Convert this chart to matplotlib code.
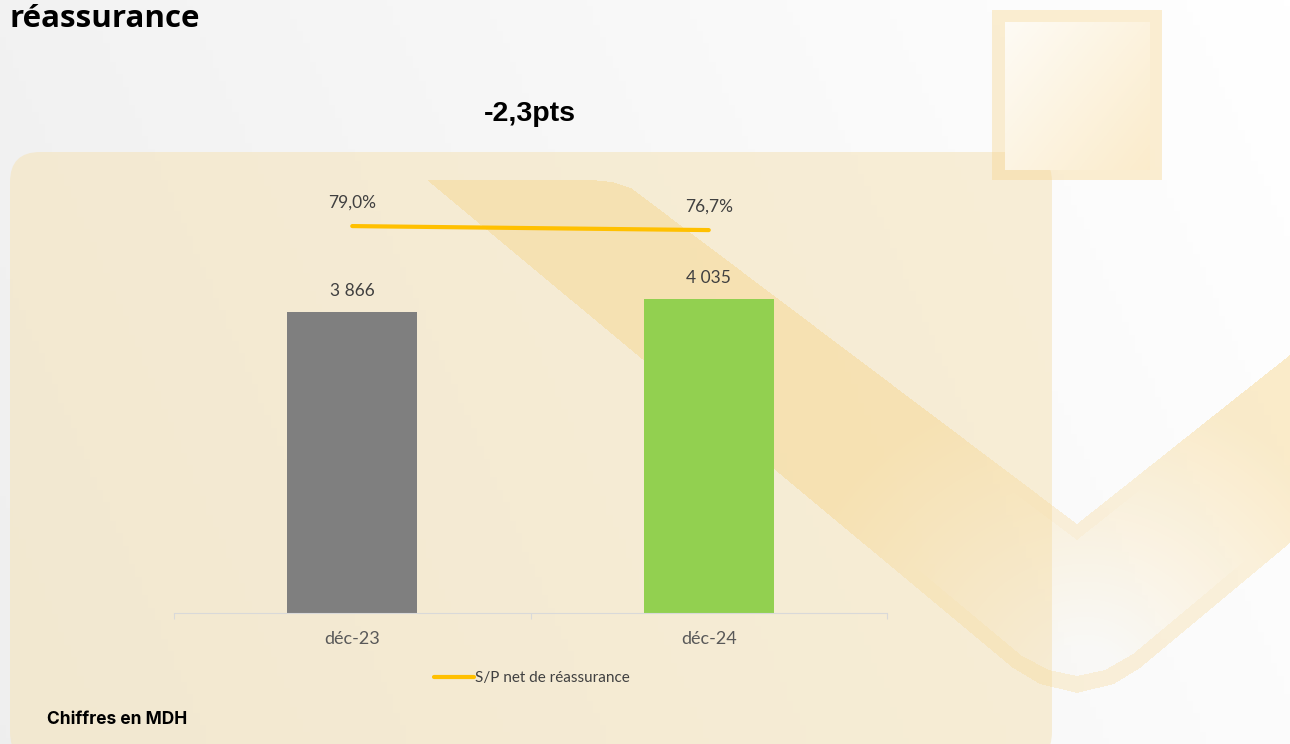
import numpy as np
import matplotlib
matplotlib.use("Agg")
import matplotlib.pyplot as plt
from matplotlib.patches import FancyBboxPatch, Rectangle
from matplotlib.path import Path

categories = ["déc-23", "déc-24"]
montants = [3866, 4035]
sp_ratio = [79.0, 76.7]
bar_colors = ["#7f7f7f", "#92d050"]
serie_ligne = "S/P net de réassurance"
variation = "-2,3pts"
titre = "réassurance"
note = "Chiffres en MDH"

W, H = 1290, 744
fig = plt.figure(figsize=(W / 100, H / 100), dpi=100)

# decorative slide background, drawn in pixel coordinates
bg = fig.add_axes([0, 0, 1, 1], zorder=0)

xx, yy = np.meshgrid(np.linspace(0, 1, 200), np.linspace(0, 1, 120))
t = np.clip(0.8 * xx + 0.2 * (1 - yy), 0, 1)
grey = 0.937 + (1.0 - 0.937) * t
bg.imshow(np.dstack([grey, grey, grey]), extent=(0, W, H, 0), aspect="auto", zorder=0)

panel = FancyBboxPatch((10, 152), 1042, 610, boxstyle="round,pad=0,rounding_size=30",
                       fc="#f5e3b8", ec="none", alpha=0.55, zorder=1)
bg.add_patch(panel)

# chevron band: gradient fill fading towards the bottom, plus a rim
px, py = np.meshgrid(np.arange(W) + 0.5, np.arange(H) + 0.5)
pts = np.column_stack([px.ravel(), py.ravel()])
band_path = Path([(427, 180), (592, 180), (612, 182), (631, 188), (1077, 524),
                  (1290, 355), (1290, 543), (1140, 668), (1114, 684), (1077, 693),
                  (1040, 684), (1013, 668)])
rim_out = Path([(613, 335), (1013, 668), (1040, 684), (1077, 693), (1114, 684),
                (1140, 668), (1290, 543), (1290, 523), (1133, 654), (1105, 670),
                (1077, 676), (1049, 670), (1022, 656), (625, 325)])
rim_in = Path([(860, 361), (1077, 524), (1290, 355), (1290, 371), (1077, 540),
               (860, 377)])
in_band = band_path.contains_points(pts).reshape(H, W)
in_rim = (rim_out.contains_points(pts) | rim_in.contains_points(pts)).reshape(H, W)
d = np.hypot(px - 1085, py - 690)
alpha = 0.45 * np.clip((d - 20) / 290, 0.08, 1)
alpha = np.where(in_rim, np.maximum(alpha, 0.3), alpha)
alpha = np.where(in_band, alpha, 0)
rgba = np.zeros((H, W, 4))
rgba[..., 0], rgba[..., 1], rgba[..., 2] = 247 / 255, 213 / 255, 138 / 255
rgba[..., 3] = alpha
bg.imshow(rgba, extent=(0, W, H, 0), aspect="auto", zorder=3, interpolation="nearest")

bg.add_patch(Rectangle((992, 10), 170, 170, fc="#f7d58a", ec="none", alpha=0.38, zorder=4))
gx, gy = np.meshgrid(np.linspace(0, 1, 60), np.linspace(0, 1, 60))
g = np.clip(0.55 * gx + 0.45 * gy, 0, 1)[..., None]
light = np.array([0.995, 0.985, 0.96])
warm = np.array([0.985, 0.925, 0.80])
bg.imshow(light * (1 - g) + warm * g, extent=(1005, 1150, 170, 22), aspect="auto", zorder=5)
bg.set_xlim(0, W)
bg.set_ylim(H, 0)
bg.axis("off")

# chart
ax = fig.add_axes([174 / W, 1 - 613 / H, 713 / W, 433 / H], zorder=2)
ax.patch.set_visible(False)
x = np.arange(len(categories))
ax.bar(x, montants, width=0.364, color=bar_colors, zorder=2)
ax.set_xlim(-0.5, 1.5)
ax.set_ylim(0, 5560)

for sp in ["top", "right", "left"]:
    ax.spines[sp].set_visible(False)
ax.spines["bottom"].set_color("#d9d9d9")
ax.set_yticks([])
ax.set_xticks([-0.5, 0.5, 1.5])
ax.set_xticklabels([])
ax.tick_params(axis="x", which="major", length=4.3, color="#d9d9d9")
ax.set_xticks(x, minor=True)
ax.set_xticklabels(categories, minor=True, fontfamily="Lato", fontsize=13, color="#595959")
ax.tick_params(axis="x", which="minor", length=0, pad=13)

for xi, v in zip(x, montants):
    ax.annotate(f"{v:,}".replace(",", " "), (xi, v), xytext=(0, 15),
                textcoords="offset points", ha="center", va="center",
                fontfamily="Lato", fontsize=12.5, color="#404040")

ax2 = ax.twinx()
ax2.set_zorder(3)
ax2.patch.set_visible(False)
ax2.set_ylim(-143.5, 105.5)
ax2.axis("off")
ax2.plot(x, sp_ratio, color="#ffc000", lw=3, solid_capstyle="round", label=serie_ligne)
for xi, v in zip(x, sp_ratio):
    ax2.annotate(f"{v:.1f}%".replace(".", ","), (xi, v), xytext=(0, 17),
                 textcoords="offset points", ha="center", va="center",
                 fontfamily="Lato", fontsize=12.5, color="#404040")

leg = ax2.legend(loc="center", bbox_to_anchor=(532 / W, 1 - 678 / H),
                 bbox_transform=fig.transFigure, frameon=False,
                 handlelength=2.6, handletextpad=0.1,
                 prop={"family": "Lato", "size": 11})
for txt in leg.get_texts():
    txt.set_color("#404040")

fig.text(10 / W, 1 - 27 / H, titre, fontfamily="Open Sans", fontweight="bold",
         fontsize=22.5, color="black", ha="left", va="baseline")
fig.text(530 / W, 1 - 121 / H, variation, fontfamily="Liberation Sans", fontweight="bold",
         fontsize=20.5, color="black", ha="center", va="baseline")
fig.text(47 / W, 1 - 720 / H, note, fontfamily="Inter", fontweight="bold",
         fontsize=12.5, color="black", ha="left", va="center")

fig.savefig("out.png", dpi=100)
